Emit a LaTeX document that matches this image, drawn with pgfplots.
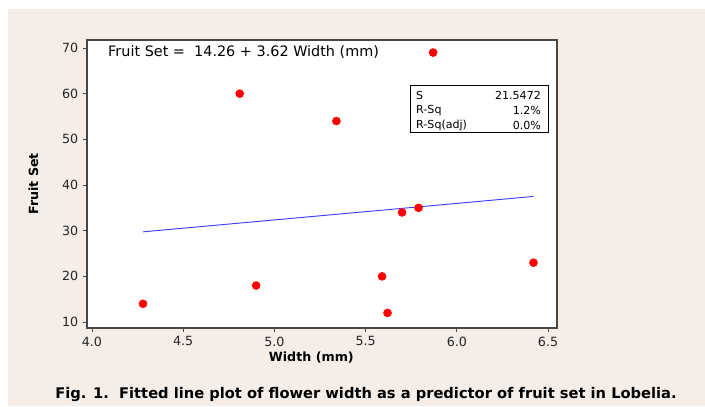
\documentclass[border=0pt]{standalone}
\usepackage{pgfplots}
\pgfplotsset{compat=1.18}
\usepackage{fontspec}
\setmainfont{DejaVu Sans}
\definecolor{bgbeige}{RGB}{245,237,232}
\definecolor{axgray}{RGB}{70,70,70}
\definecolor{fitblue}{RGB}{60,60,255}
\begin{document}
\begin{tikzpicture}
\path[use as bounding box] (0,0) rectangle (528.75pt,304.5pt);
\fill[bgbeige] (6pt,0) rectangle (528.75pt,297.75pt);
\begin{axis}[
  at={(65.25pt,58.5pt)}, anchor=south west,
  scale only axis, width=352.5pt, height=216pt,
  xmin=3.973, xmax=6.549, ymin=8.7, ymax=71.75,
  axis background/.style={fill=white},
  axis line style={axgray, line width=0.8pt},
  xtick={4.0,4.5,5.0,5.5,6.0,6.5},
  ytick={10,20,30,40,50,60,70},
  xticklabel style={/pgf/number format/.cd,fixed,fixed zerofill,precision=1},
  /pgf/number format/assume math mode=true,
  tick align=outside, xtick pos=bottom, ytick pos=left,
  major tick length=3pt,
  tick style={axgray, line width=0.6pt},
  ticklabel style={font=\fontsize{9.5}{10}\selectfont, text=black!85},
  xlabel={\textbf{Width (mm)}},
  ylabel={\textbf{Fruit Set}},
  label style={font=\fontsize{9.5}{10}\selectfont},
  xlabel style={yshift=3pt, xshift=-8pt},
  ylabel style={yshift=11pt},
  clip=false,
]
\addplot[fitblue, line width=0.7pt] coordinates {(4.28,29.75) (6.42,37.50)};
\addplot[only marks, mark=*, mark size=3pt, color=red, mark options={fill=red, draw=red}] coordinates {
(4.28,14) (4.81,60) (4.90,18) (5.34,54) (5.59,20) (5.62,12) (5.70,34) (5.79,35) (5.87,69) (6.42,23)
};
\node[anchor=west, inner sep=0pt, font=\fontsize{10.8}{11}\selectfont] at (axis cs:4.088,69.1) {Fruit Set =\ \ 14.26 + 3.62 Width (mm)};
\draw[black, line width=0.6pt] (axis cs:5.743,61.86) rectangle (axis cs:6.5,51.58);
\node[anchor=west, inner sep=0pt, font=\fontsize{8.3}{9}\selectfont] at (axis cs:5.776,59.67) {S};
\node[anchor=west, inner sep=0pt, font=\fontsize{8.3}{9}\selectfont] at (axis cs:5.776,56.39) {R-Sq};
\node[anchor=west, inner sep=0pt, font=\fontsize{8.3}{9}\selectfont] at (axis cs:5.776,53.10) {R-Sq(adj)};
\node[anchor=east, inner sep=0pt, font=\fontsize{8.3}{9}\selectfont] at (axis cs:6.462,59.67) {21.5472};
\node[anchor=east, inner sep=0pt, font=\fontsize{8.3}{9}\selectfont] at (axis cs:6.462,56.39) {1.2\%};
\node[anchor=east, inner sep=0pt, font=\fontsize{8.3}{9}\selectfont] at (axis cs:6.462,53.10) {0.0\%};
\end{axis}
\node[anchor=west, inner sep=0pt, font=\fontsize{11}{12}\selectfont\bfseries] at (41.25pt,8.25pt) {Fig. 1.\ \ Fitted line plot of flower width as a predictor of fruit set in Lobelia.};
\end{tikzpicture}
\end{document}
